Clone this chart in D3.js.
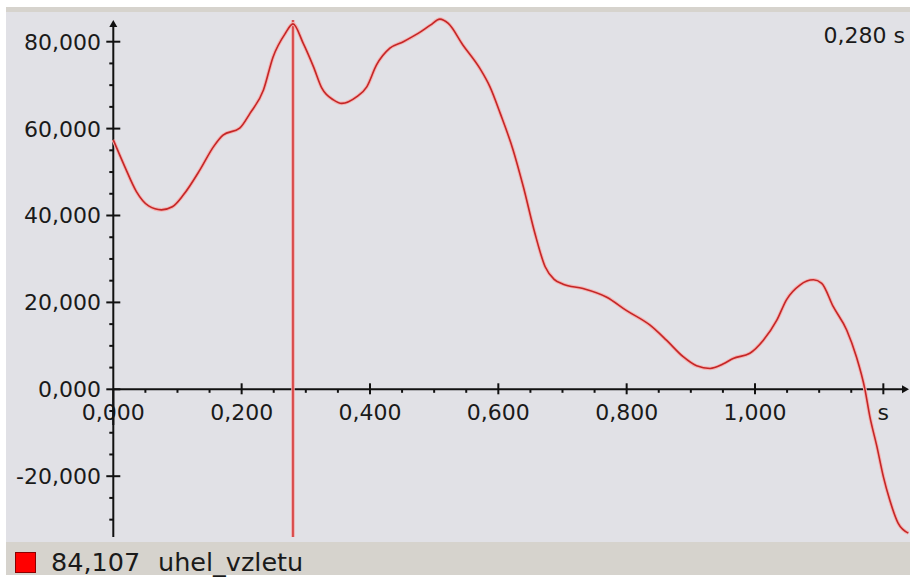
<!DOCTYPE html>
<html>
<head>
<meta charset="utf-8">
<script src="https://cdn.jsdelivr.net/npm/d3@7"></script>
<style>
  html, body { margin: 0; padding: 0; background: #ffffff; }
  svg { display: block; }
  text { font-family: "DejaVu Sans", Verdana, sans-serif; fill: #1a1a1a; }
</style>
</head>
<body>
<svg id="chart" width="910" height="577"></svg>
<script>
// Measured takeoff angle over time
const seriesName = "uhel_vzletu";
const unitLabel = "s";
const cursorTime = 0.280;

const timeValues = [
  0.000, 0.018, 0.036, 0.055, 0.075, 0.092, 0.109, 0.135, 0.156, 0.171,
  0.197, 0.213, 0.234, 0.249, 0.268, 0.280, 0.296, 0.312, 0.325, 0.343,
  0.356, 0.379, 0.395, 0.410, 0.431, 0.452, 0.475, 0.494, 0.509, 0.522,
  0.545, 0.571, 0.587, 0.603, 0.623, 0.639, 0.657, 0.673, 0.687, 0.701,
  0.732, 0.769, 0.800, 0.836, 0.862, 0.888, 0.909, 0.930, 0.950, 0.966,
  0.992, 1.013, 1.034, 1.049, 1.070, 1.091, 1.104, 1.122, 1.143, 1.158,
  1.171, 1.179, 1.190, 1.200, 1.210, 1.223, 1.239
];
const angleValues = [
  57.4, 51.2, 45.5, 42.2, 41.3, 42.0, 44.7, 50.5, 55.8, 58.5,
  60.1, 63.5, 68.9, 76.5, 81.9, 84.107, 79.6, 74.2, 69.3, 66.6,
  65.8, 67.3, 69.6, 74.6, 78.5, 80.0, 81.9, 83.8, 85.2, 84.2,
  79.2, 73.9, 69.6, 63.5, 55.1, 46.6, 35.9, 28.2, 25.3, 24.2,
  23.2, 21.2, 18.1, 14.8, 11.3, 7.5, 5.4, 4.8, 5.8, 7.1,
  8.3, 11.3, 15.9, 20.6, 24.0, 25.2, 24.4, 19.0, 13.6, 7.5,
  0.2, -6.3, -13.2, -20.1, -25.5, -30.8, -33.1
];

const xMajorTicks = [0, 0.2, 0.4, 0.6, 0.8, 1.0, 1.2];
const yMajorTicks = [-20, 0, 20, 40, 60, 80];

const data = timeValues.map((t, i) => ({ t, v: angleValues[i] }));

// Czech number style: decimal comma, hyphen minus
const locale = d3.formatLocale({ decimal: ",", thousands: " ", grouping: [3], currency: ["", ""], minus: "-" });
const fmt = locale.format(".3f");

const svg = d3.select("#chart");
const W = 910, H = 577;

const x = d3.scaleLinear().domain([0, 1]).range([113.3, 755]);
const y = d3.scaleLinear().domain([0, 80]).range([389.3, 41.7]);

// Window chrome: white frame, beige bars, grey plotting area
svg.append("rect").attr("x", 0).attr("y", 0).attr("width", W).attr("height", H).attr("fill", "#ffffff");
svg.append("rect").attr("x", 6).attr("y", 7).attr("width", W - 6).attr("height", 568).attr("fill", "#e1e1e6");
svg.append("rect").attr("x", 6).attr("y", 7).attr("width", W - 6).attr("height", 5).attr("fill", "#d6d3cd");
svg.append("rect").attr("x", 6).attr("y", 542).attr("width", W - 6).attr("height", 33).attr("fill", "#d6d3cd");

const axisColor = "#111";
const plot = svg.append("g");

// Y axis line with arrow
const yTop = 21, yBottom = 537;
plot.append("line").attr("x1", x(0)).attr("x2", x(0)).attr("y1", yTop + 3).attr("y2", yBottom)
  .attr("stroke", axisColor).attr("stroke-width", 2);
plot.append("path")
  .attr("d", `M${x(0)},${yTop - 1} L${x(0) - 4},${yTop + 6} L${x(0) + 4},${yTop + 6} Z`)
  .attr("fill", axisColor);

// X axis line with arrow
const xEnd = 909;
plot.append("line").attr("x1", x(0)).attr("x2", xEnd - 4).attr("y1", y(0)).attr("y2", y(0))
  .attr("stroke", axisColor).attr("stroke-width", 2);
plot.append("path")
  .attr("d", `M${xEnd},${y(0)} L${xEnd - 7},${y(0) - 4} L${xEnd - 7},${y(0) + 4} Z`)
  .attr("fill", axisColor);

// Y ticks
const yMinor = d3.range(-30, 80, 5).filter(v => v % 20 !== 0);
plot.selectAll(".ymin").data(yMinor).join("line")
  .attr("x1", x(0) - 4).attr("x2", x(0)).attr("y1", d => y(d)).attr("y2", d => y(d))
  .attr("stroke", axisColor).attr("stroke-width", 2);
plot.selectAll(".ymaj").data(yMajorTicks).join("line")
  .attr("x1", x(0) - 7).attr("x2", x(0) + 7).attr("y1", d => y(d)).attr("y2", d => y(d))
  .attr("stroke", axisColor).attr("stroke-width", 2);
plot.selectAll(".ylab").data(yMajorTicks).join("text")
  .attr("x", 101).attr("y", d => y(d)).attr("dy", "0.36em")
  .attr("text-anchor", "end").attr("font-size", 22)
  .text(d => fmt(d));

// X ticks
const xMinor = d3.range(0.05, 1.2, 0.05).filter(v => Math.abs(v / 0.2 - Math.round(v / 0.2)) > 1e-6);
plot.selectAll(".xmin").data(xMinor).join("line")
  .attr("x1", d => x(d)).attr("x2", d => x(d)).attr("y1", y(0)).attr("y2", y(0) + 3.5)
  .attr("stroke", axisColor).attr("stroke-width", 2);
plot.selectAll(".xmaj").data(xMajorTicks.filter(d => d > 0)).join("line")
  .attr("x1", d => x(d)).attr("x2", d => x(d)).attr("y1", y(0) - 6).attr("y2", y(0) + 5)
  .attr("stroke", axisColor).attr("stroke-width", 2);
plot.selectAll(".xlab").data(xMajorTicks).join("text")
  .attr("x", d => x(d)).attr("y", 420)
  .attr("text-anchor", "middle").attr("font-size", 22)
  .text(d => d >= 1.2 - 1e-9 ? unitLabel : fmt(d));

// Redraw the y axis line over the origin label
plot.append("line").attr("x1", x(0)).attr("x2", x(0)).attr("y1", y(0)).attr("y2", 425)
  .attr("stroke", axisColor).attr("stroke-width", 2);

// Cursor line
plot.append("line").attr("x1", x(cursorTime)).attr("x2", x(cursorTime)).attr("y1", 20).attr("y2", yBottom)
  .attr("stroke", "#f2a8a8").attr("stroke-width", 3.5);
plot.append("line").attr("x1", x(cursorTime)).attr("x2", x(cursorTime)).attr("y1", 20).attr("y2", yBottom)
  .attr("stroke", "#cf2a2a").attr("stroke-width", 1.4);

// Series line
const line = d3.line().x(d => x(d.t)).y(d => y(d.v)).curve(d3.curveMonotoneX);
plot.append("path").datum(data).attr("d", line)
  .attr("fill", "none").attr("stroke", "#f4b4b4").attr("stroke-width", 3.6)
  .attr("stroke-linejoin", "round");
plot.append("path").datum(data).attr("d", line)
  .attr("fill", "none").attr("stroke", "#c42626").attr("stroke-width", 1.6)
  .attr("stroke-linejoin", "round");

// Cursor time readout
svg.append("text").attr("x", 905).attr("y", 43).attr("text-anchor", "end")
  .attr("font-size", 22).text(fmt(cursorTime) + " " + unitLabel);

// Legend: colour swatch, value at cursor, series name
const cursorPoint = data.find(d => Math.abs(d.t - cursorTime) < 1e-9);
svg.append("rect").attr("x", 15.5).attr("y", 552.5).attr("width", 20).attr("height", 20)
  .attr("fill", "#ff0000").attr("stroke", "#8a0000").attr("stroke-width", 1);
svg.append("text").attr("x", 51).attr("y", 570.5).attr("font-size", 25.5).text(fmt(cursorPoint.v));
svg.append("text").attr("x", 158).attr("y", 570.5).attr("font-size", 25.5).text(seriesName);
</script>
</body>
</html>
